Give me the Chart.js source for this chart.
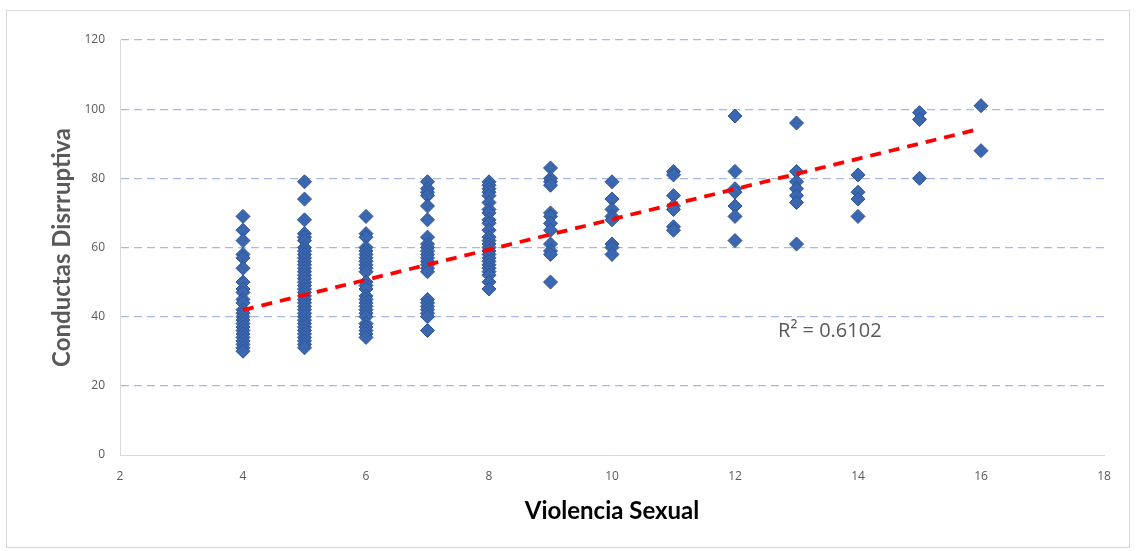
<!DOCTYPE html>
<html>
<head>
<meta charset="utf-8">
<script src="https://cdn.jsdelivr.net/npm/chart.js@4"></script>
<style>
  html, body { margin: 0; padding: 0; background: #ffffff; }
  #wrap { position: absolute; left: 0; top: 0; width: 1136px; height: 551px; }
</style>
</head>
<body>
<div id="wrap"><canvas id="c" width="1136" height="551"></canvas></div>
<script>
// ---- Data ----
const xLevels = [4, 5, 6, 7, 8, 9, 10, 11, 12, 13, 14, 15, 16];
const yAt4  = [69, 65, 62, 58, 57, 54, 50, 48, 47, 45, 44, 42, 41, 40, 39, 38, 37, 36, 35, 34, 33, 32, 31, 30];
const yAt5  = [79, 74, 68, 64, 63, 62, 60, 59, 58, 57, 56, 55, 54, 53, 52, 51, 50, 49, 48, 47, 46, 45, 44, 43, 42, 41, 40, 39, 38, 37, 36, 35, 34, 33, 32, 31];
const yAt6  = [69, 64, 63, 60, 59, 58, 57, 56, 55, 54, 53, 50, 49, 48, 46, 45, 44, 43, 42, 41, 40, 38, 37, 36, 35, 34];
const yAt7  = [79, 77, 76, 75, 72, 68, 63, 61, 60, 59, 58, 57, 56, 55, 54, 53, 45, 44, 43, 42, 41, 40, 36];
const yAt8  = [79, 78, 77, 76, 75, 73, 71, 70, 68, 67, 65, 63, 62, 61, 60, 59, 58, 57, 56, 55, 54, 53, 52, 50, 48];
const yAt9  = [83, 80, 79, 78, 70, 69, 67, 65, 61, 59, 58, 50];
const yAt10 = [79, 74, 71, 69, 68, 61, 60, 58];
const yAt11 = [82, 81, 75, 72, 71, 66, 65];
const yAt12 = [98, 82, 77, 76, 72, 69, 62];
const yAt13 = [96, 82, 79, 77, 75, 73, 61];
const yAt14 = [81, 76, 74, 69];
const yAt15 = [99, 97, 80];
const yAt16 = [101, 88];
const yByLevel = [yAt4, yAt5, yAt6, yAt7, yAt8, yAt9, yAt10, yAt11, yAt12, yAt13, yAt14, yAt15, yAt16];

const trendX = [4, 16];
const trendY = [41.9, 94.4];
const r2Label = 'R² = 0.6102';

const xTicks = [2, 4, 6, 8, 10, 12, 14, 16, 18];
const yTicks = [0, 20, 40, 60, 80, 100, 120];

const xTitle = 'Violencia Sexual';
const yTitle = 'Conductas Disrruptiva';

// ---- Build datasets ----
const scatterPoints = [];
xLevels.forEach((x, i) => {
  yByLevel[i].forEach(y => scatterPoints.push({ x: x, y: y }));
});
const trendPoints = trendX.map((x, i) => ({ x: x, y: trendY[i] }));

const frame = {
  id: 'frame',
  beforeDraw(chart) {
    const ctx = chart.ctx;
    ctx.save();
    ctx.fillStyle = '#ffffff';
    ctx.fillRect(0, 0, chart.width, chart.height);
    ctx.strokeStyle = '#d9d9d9';
    ctx.lineWidth = 1;
    ctx.strokeRect(6.5, 10.5, 1123, 537);
    ctx.restore();
  }
};

const r2Plugin = {
  id: 'r2',
  afterDatasetsDraw(chart) {
    const ctx = chart.ctx;
    const xs = chart.scales.x, ys = chart.scales.y;
    ctx.save();
    ctx.font = '20px "Open Sans", sans-serif';
    ctx.fillStyle = '#595959';
    ctx.textAlign = 'left';
    ctx.textBaseline = 'middle';
    ctx.fillText(r2Label, xs.getPixelForValue(12.7), ys.getPixelForValue(35.9));
    ctx.restore();
  }
};

new Chart(document.getElementById('c'), {
  type: 'scatter',
  data: {
    datasets: [
      {
        type: 'line',
        label: 'Tendencia',
        data: trendPoints,
        borderColor: '#ff0000',
        borderWidth: 3.8,
        borderDash: [11, 8],
        pointRadius: 0,
        fill: false,
        order: 0
      },
      {
        label: 'Datos',
        data: scatterPoints,
        pointStyle: 'rectRot',
        pointRadius: 7,
        pointHoverRadius: 7,
        backgroundColor: '#3b67b0',
        borderColor: '#2e5494',
        borderWidth: 1,
        order: 1
      }
    ]
  },
  options: {
    responsive: false,
    animation: false,
    devicePixelRatio: 1,
    layout: { padding: { left: 0, top: 40, right: 32, bottom: 0 } },
    plugins: {
      legend: { display: false },
      tooltip: { enabled: false }
    },
    scales: {
      x: {
        type: 'linear',
        min: 2, max: 18,
        afterBuildTicks: (s) => { s.ticks = xTicks.map(v => ({ value: v })); },
        afterFit: (s) => { s.height = 96; },
        grid: { display: false, drawTicks: false },
        border: { display: true, color: '#d9d9d9', width: 1 },
        ticks: {
          color: '#595959',
          font: { family: '"Open Sans", sans-serif', size: 12 },
          padding: 14,
          maxRotation: 0
        },
        title: {
          display: true,
          text: xTitle,
          color: '#000000',
          font: { family: 'Lato, sans-serif', size: 24, weight: 'bold' },
          padding: { top: 0, bottom: 25 }
        }
      },
      y: {
        type: 'linear',
        min: 0, max: 120,
        afterBuildTicks: (s) => { s.ticks = yTicks.map(v => ({ value: v })); },
        afterFit: (s) => { s.width = 120; },
        grid: {
          drawTicks: false,
          color: (ctx) => (ctx.tick && ctx.tick.value === 0) ? 'rgba(0,0,0,0)' : '#a6b9e0',
          lineWidth: 1.3
        },
        border: { display: true, color: '#d9d9d9', width: 1, dash: [8, 5] },
        ticks: {
          color: '#595959',
          font: { family: '"Open Sans", sans-serif', size: 12 },
          padding: 15
        },
        title: {
          display: true,
          text: yTitle,
          color: '#595959',
          font: { family: 'Lato, sans-serif', size: 24, weight: 'bold' },
          padding: { top: 48, bottom: 0 }
        }
      }
    }
  },
  plugins: [frame, r2Plugin]
});
</script>
</body>
</html>
